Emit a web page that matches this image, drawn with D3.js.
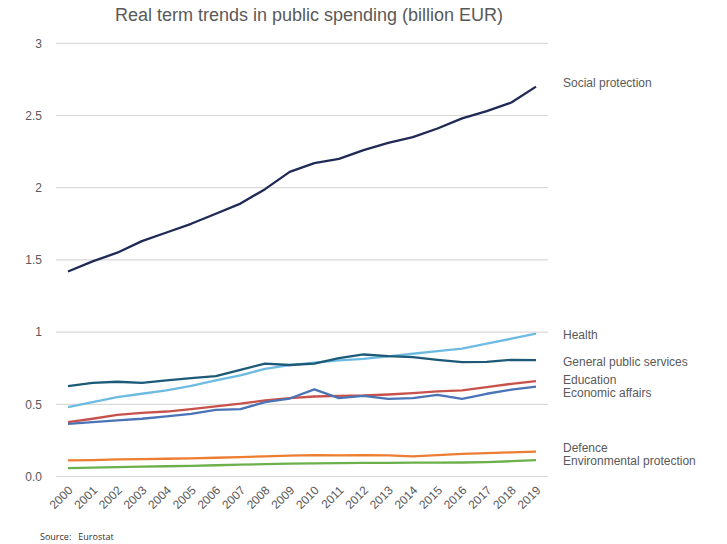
<!DOCTYPE html>
<html>
<head>
<meta charset="utf-8">
<script src="https://cdn.jsdelivr.net/npm/d3@7"></script>
<style>
  body { margin: 0; background: #fff; }
  svg { font-family: "Liberation Sans", Arial, sans-serif; }
</style>
</head>
<body>
<div id="chart-area"></div>
<script>
var years = [2000, 2001, 2002, 2003, 2004, 2005, 2006, 2007, 2008, 2009,
             2010, 2011, 2012, 2013, 2014, 2015, 2016, 2017, 2018, 2019];

var socialProtection = [1.42, 1.49, 1.55, 1.63, 1.69, 1.75, 1.82, 1.89, 1.99, 2.11,
                        2.17, 2.20, 2.26, 2.31, 2.35, 2.41, 2.48, 2.53, 2.59, 2.70];
var health = [0.48, 0.515, 0.55, 0.573, 0.596, 0.628, 0.665, 0.70, 0.746, 0.772,
              0.788, 0.804, 0.815, 0.832, 0.85, 0.868, 0.885, 0.92, 0.954, 0.989];
var generalPublic = [0.626, 0.649, 0.656, 0.649, 0.665, 0.681, 0.695, 0.739, 0.782, 0.772,
                     0.781, 0.82, 0.845, 0.834, 0.827, 0.808, 0.792, 0.794, 0.808, 0.806];
var education = [0.376, 0.40, 0.427, 0.441, 0.45, 0.466, 0.485, 0.504, 0.527, 0.543,
                 0.554, 0.559, 0.561, 0.568, 0.577, 0.589, 0.596, 0.619, 0.642, 0.661];
var economicAffairs = [0.365, 0.376, 0.388, 0.40, 0.416, 0.434, 0.462, 0.466, 0.515, 0.54,
                       0.603, 0.543, 0.559, 0.538, 0.543, 0.566, 0.538, 0.573, 0.601, 0.622];
var defence = [0.111, 0.114, 0.118, 0.121, 0.123, 0.126, 0.130, 0.134, 0.140, 0.145,
               0.148, 0.146, 0.147, 0.146, 0.140, 0.148, 0.157, 0.162, 0.167, 0.172];
var environmental = [0.058, 0.062, 0.065, 0.068, 0.071, 0.074, 0.078, 0.082, 0.086, 0.089,
                     0.091, 0.093, 0.094, 0.095, 0.096, 0.096, 0.097, 0.100, 0.106, 0.113];

var yTicks = [0, 0.5, 1, 1.5, 2, 2.5, 3];
var yTickLabels = ["0.0", "0.5", "1", "1.5", "2", "2.5", "3"];

var series = [
    { name: "Social protection", values: socialProtection, color: "#1f2a56", nudge: -4 },
    { name: "Health", values: health, color: "#6dbbe2", nudge: 1 },
    { name: "General public services", values: generalPublic, color: "#1d5a78", nudge: 2 },
    { name: "Education", values: education, color: "#c9514b", nudge: -1 },
    { name: "Economic affairs", values: economicAffairs, color: "#4a74b6", nudge: 6 },
    { name: "Defence", values: defence, color: "#ed7d31", nudge: -4 },
    { name: "Environmental protection", values: environmental, color: "#6cb04c", nudge: 1 }
];

var width = 727, height = 544;
var margin = { left: 56, right: 179, top: 43, bottom: 68 };

var svg = d3.select("#chart-area")
    .append("svg")
    .attr("width", width)
    .attr("height", height);

var x = d3.scalePoint()
    .domain(years)
    .range([68, 536]);

var y = d3.scaleLinear()
    .domain([0, 3])
    .range([height - margin.bottom + 0.5, margin.top + 0.3]);

// Title
svg.append("text")
    .attr("x", 309)
    .attr("y", 21)
    .attr("text-anchor", "middle")
    .attr("font-size", "18px")
    .attr("fill", "#595959")
    .text("Real term trends in public spending (billion EUR)");

// gridlines
svg.append("g")
    .selectAll("line")
    .data(yTicks)
    .enter()
    .append("line")
        .attr("x1", 56)
        .attr("x2", 548)
        .attr("y1", function(d){ return y(d); })
        .attr("y2", function(d){ return y(d); })
        .attr("stroke", "#d9d9d9")
        .attr("stroke-width", 1.2);

// Y axis
var yAxisCall = d3.axisLeft(y)
    .tickValues(yTicks)
    .tickSize(0)
    .tickPadding(0)
    .tickFormat(function(d, i){ return yTickLabels[i]; });

var yAxis = svg.append("g")
    .attr("class", "y-axis")
    .attr("transform", "translate(42, 0)")
    .call(yAxisCall);
yAxis.select(".domain").remove();
yAxis.selectAll("text")
    .attr("fill", "#595959")
    .style("font-size", "12px")
    .style("font-family", "Liberation Sans, Arial, sans-serif");

// X axis
var xAxisCall = d3.axisBottom(x).tickSize(0).tickPadding(0);
var xAxis = svg.append("g")
    .attr("class", "x-axis")
    .attr("transform", "translate(0, 484)")
    .call(xAxisCall);
xAxis.select(".domain").remove();
xAxis.selectAll("text")
    .attr("fill", "#595959")
    .attr("text-anchor", "end")
    .attr("x", 0)
    .attr("y", 0)
    .attr("dy", "0.35em")
    .attr("transform", "translate(2, 4) rotate(-45)")
    .style("font-size", "12px")
    .style("font-family", "Liberation Sans, Arial, sans-serif");

// lines
var line = d3.line()
    .x(function(d, i){ return x(years[i]); })
    .y(function(d){ return y(d); });

svg.append("g")
    .selectAll("path")
    .data(series)
    .enter()
    .append("path")
        .attr("d", function(d){ return line(d.values); })
        .attr("fill", "none")
        .attr("stroke", function(d){ return d.color; })
        .attr("stroke-width", 2.3)
        .attr("stroke-linejoin", "round");

// end labels
svg.append("g")
    .selectAll("text")
    .data(series)
    .enter()
    .append("text")
        .attr("x", 563)
        .attr("y", function(d){ return y(d.values[d.values.length - 1]) + d.nudge; })
        .attr("dy", "0.35em")
        .attr("font-size", "12px")
        .attr("fill", "#595959")
        .text(function(d){ return d.name; });

// Source
svg.append("text")
    .attr("x", 40)
    .attr("y", 540)
    .attr("font-size", "9px")
    .attr("fill", "#333")
    .attr("font-family", "Open Sans, sans-serif")
    .attr("xml:space", "preserve")
    .text("Source:   Eurostat");
</script>
</body>
</html>
